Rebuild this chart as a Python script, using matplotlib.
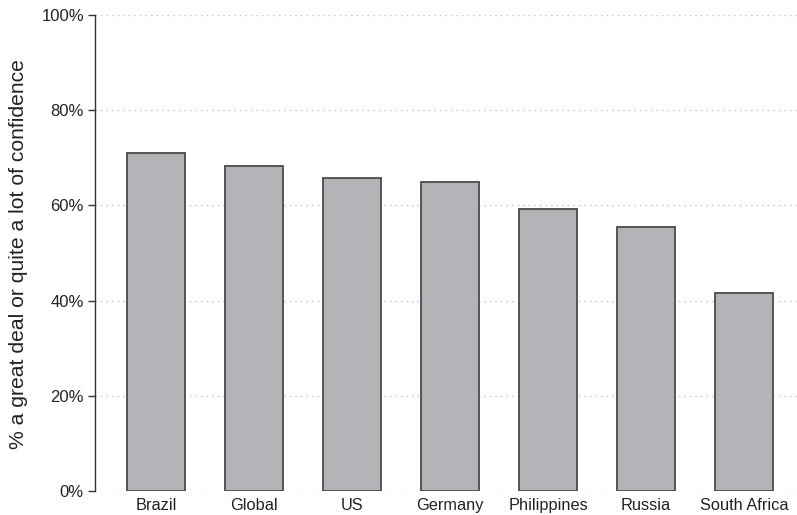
import matplotlib
matplotlib.use("Agg")
import matplotlib.pyplot as plt
from matplotlib.ticker import FuncFormatter

categories = ["Brazil", "Global", "US", "Germany", "Philippines", "Russia", "South Africa"]
values = [71.0, 68.2, 65.7, 64.9, 59.3, 55.5, 41.7]
yticks = [0, 20, 40, 60, 80, 100]

plt.rcParams['font.family'] = ['Liberation Sans', 'DejaVu Sans']

fig = plt.figure(figsize=(7.97, 5.15), dpi=100)
ax = fig.add_axes([95/797, (515-491)/515, 1 - 95/797, 476/515])

x = list(range(len(categories)))
ax.bar(x, values, width=0.59, color="#b3b4b8", edgecolor="#4a4a4a", linewidth=1.3, zorder=3)

ax.set_xlim(-0.622, 6.54)
ax.set_ylim(0, 100)
ax.set_yticks(yticks)
ax.yaxis.set_major_formatter(FuncFormatter(lambda v, p: f"{int(v)}%"))
ax.set_xticks(x)
ax.set_xticklabels(categories, fontsize=11.8, color="#222222")
ax.tick_params(axis="x", length=0, pad=5)
ax.tick_params(axis="y", length=5, width=1, color="#333333", labelsize=12, labelcolor="#222222", pad=3)

for t in yticks:
    ax.axhline(t, color="#c4c4c4", linestyle=(0, (1, 3)), linewidth=1, zorder=1)

for s in ["top", "right", "bottom"]:
    ax.spines[s].set_visible(False)
ax.spines["left"].set_color("#333333")
ax.spines["left"].set_linewidth(1)

ax.set_ylabel("% a great deal or quite a lot of confidence", fontsize=15.2, color="#222222")
ax.yaxis.set_label_coords(-0.095, 0.497)

fig.savefig("out.png", dpi=100)
